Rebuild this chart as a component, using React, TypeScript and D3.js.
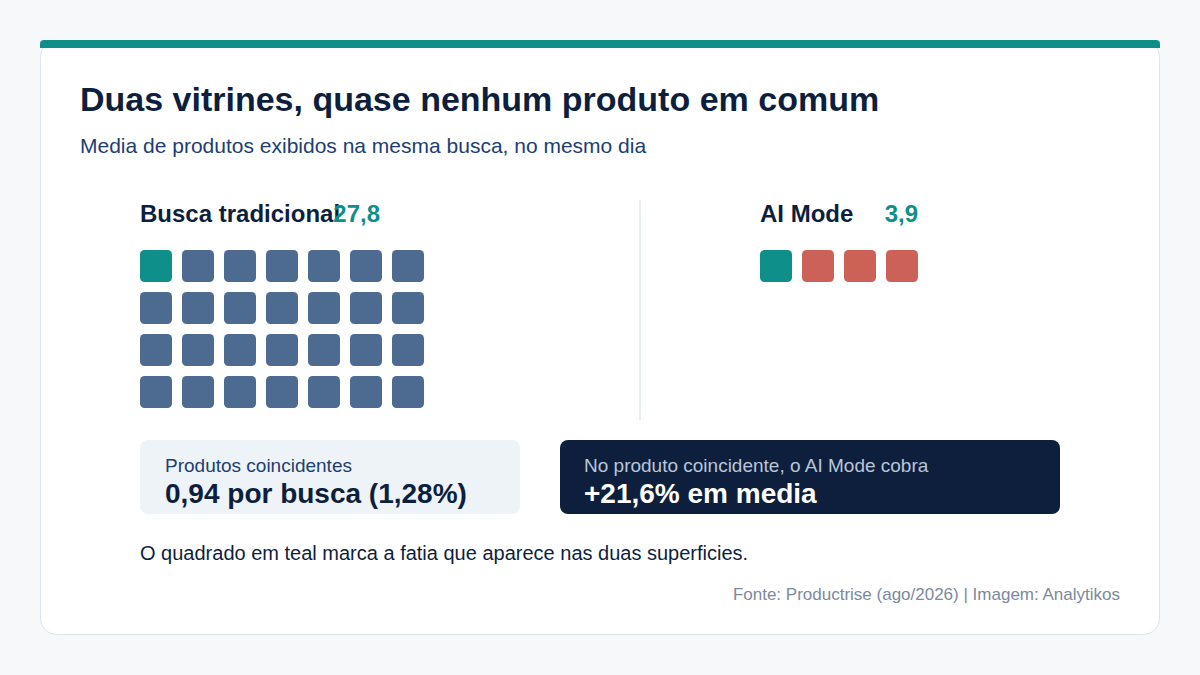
import * as d3 from 'd3'

const groups = ['Busca tradicional', 'AI Mode']
const averages = [27.8, 3.9]
const averageLabels = ['27,8', '3,9']
const sharedPerSearch = 0.94
const sharedLabel = '0,94 por busca (1,28%)'
const premiumLabel = '+21,6% em media'

const W = 1200, H = 675
const TEAL = '#0f8f8a', SLATE = '#4d6a90', CORAL = '#cc6257', NAVY = '#0e1f3d'
const FONT = '"Liberation Sans", Arial, Helvetica, sans-serif'
const CELL = 32, STEP = 42, COLS = 7

function Waffle({ x, y, n, shared, other }: { x: number; y: number; n: number; shared: number; other: string }) {
  const cx = d3.scaleLinear().domain([0, 1]).range([x, x + STEP])
  const cy = d3.scaleLinear().domain([0, 1]).range([y, y + STEP])
  return (
    <g>
      {d3.range(n).map(i => (
        <rect key={i} x={cx(i % COLS)} y={cy(Math.floor(i / COLS))} width={CELL} height={CELL}
          rx={4.5} fill={i < shared ? TEAL : other} />
      ))}
    </g>
  )
}

export default function App() {
  const shared = Math.round(sharedPerSearch)
  const groupX = [140, 760]
  const valueEnd = [380, 918]
  const otherColor = [SLATE, CORAL]
  return (
    <svg width={W} height={H} style={{ position: 'absolute', left: 0, top: 0, fontFamily: FONT }}>
      <rect width={W} height={H} fill="#f6f8fa" />
      <rect x={40.5} y={40.5} width={1119} height={594} rx={16} fill="#fff" stroke="#dde4ec" />
      <path d="M40,48 V44 a4,4 0 0 1 4,-4 H1156 a4,4 0 0 1 4,4 V48 Z" fill={TEAL} />
      <text x={80} y={111} fontSize={34} fontWeight={700} fill={NAVY}>Duas vitrines, quase nenhum produto em comum</text>
      <text x={80} y={153} fontSize={21} fill="#1d3e72">Media de produtos exibidos na mesma busca, no mesmo dia</text>

      <line x1={640} x2={640} y1={200} y2={420} stroke="#e1e7ef" strokeWidth={1.5} />

      {groups.map((g, i) => (
        <g key={g}>
          <text x={groupX[i]} y={222} fontSize={24} fontWeight={700} fill={NAVY}>{g}</text>
          <text x={valueEnd[i]} y={222} fontSize={24} fontWeight={700} fill={TEAL} textAnchor="end">{averageLabels[i]}</text>
          <Waffle x={groupX[i]} y={250} n={Math.round(averages[i])} shared={shared} other={otherColor[i]} />
        </g>
      ))}

      <rect x={140} y={440} width={380} height={74} rx={8} fill="#eef3f8" />
      <text x={165} y={472} fontSize={19} fill="#1d3e72">Produtos coincidentes</text>
      <text x={165} y={503} fontSize={28} fontWeight={700} fill={NAVY}>{sharedLabel}</text>

      <rect x={560} y={440} width={500} height={74} rx={8} fill={NAVY} />
      <text x={584} y={472} fontSize={19} fill="#b9c6d8">No produto coincidente, o AI Mode cobra</text>
      <text x={584} y={503} fontSize={28} fontWeight={700} fill="#fff">{premiumLabel}</text>

      <text x={140} y={560} fontSize={20} fill={NAVY}>O quadrado em teal marca a fatia que aparece nas duas superficies.</text>
      <text x={1120} y={600} fontSize={17} fill="#7a8aa0" textAnchor="end">Fonte: Productrise (ago/2026) | Imagem: Analytikos</text>
    </svg>
  )
}
